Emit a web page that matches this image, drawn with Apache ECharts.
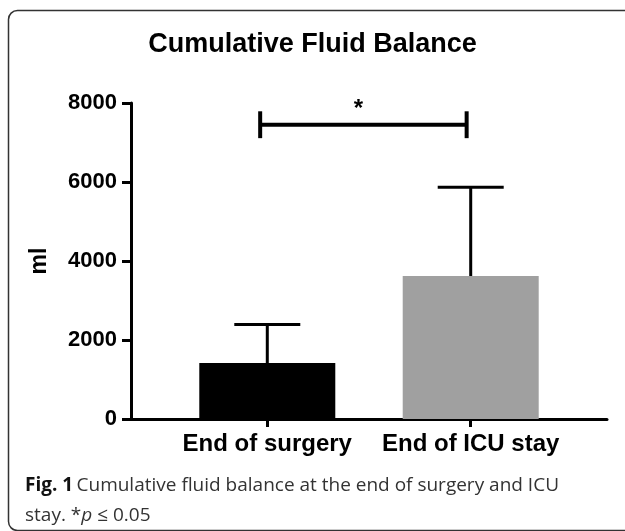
<!DOCTYPE html>
<html>
<head>
<meta charset="utf-8">
<script src="https://cdn.jsdelivr.net/npm/echarts@6/dist/echarts.min.js"></script>
<style>
html,body{margin:0;padding:0;background:#fff;}
#chart{width:625px;height:531px;}
</style>
</head>
<body>
<div id="chart"></div>
<script>
// ---- data ----
var categories = ['End of surgery', 'End of ICU stay'];
var means = [1415, 3620];
var sds = [975, 2250];
var barColors = ['#000000', '#a0a0a0'];
var yTicks = [0, 2000, 4000, 6000, 8000];
var sigFrom = -0.035, sigTo = 0.98, sigY = 7450, sigTick = 340, sigLabel = '*';

var chart = echarts.init(document.getElementById('chart'), null, {renderer: 'canvas'});

var barData = means.map(function (m, i) {
  return {value: [i, m], itemStyle: {color: barColors[i]}};
});
var errData = means.map(function (m, i) { return [i, m, m + sds[i]]; });

var boldFont = '"Liberation Sans", Arial, Helvetica, sans-serif';
var capFont = '"Open Sans", "Noto Sans", sans-serif';

var option = {
  animation: false,
  backgroundColor: '#fff',
  title: {
    text: 'Cumulative Fluid Balance',
    left: 'center',
    top: 26,
    textStyle: {fontFamily: boldFont, fontWeight: 'bold', fontSize: 27, color: '#000'}
  },
  grid: {left: 131, right: 18, top: 103, bottom: 112, containLabel: false},
  xAxis: {
    type: 'value',
    min: -0.67,
    max: 1.67,
    splitLine: {show: false},
    axisLine: {show: true, onZero: false, lineStyle: {color: '#000', width: 3}},
    axisTick: {show: true, length: 8, lineStyle: {color: '#000', width: 3}, customValues: [0, 1]},
    axisLabel: {
      customValues: [0, 1],
      margin: 13,
      fontFamily: boldFont, fontWeight: 'bold', fontSize: 24, color: '#000',
      formatter: function (v) { return categories[Math.round(v)] || ''; }
    }
  },
  yAxis: {
    type: 'value',
    min: 0, max: 8000, interval: 2000,
    name: 'ml',
    nameLocation: 'middle',
    nameRotate: 90,
    nameGap: 80,
    nameTextStyle: {fontFamily: boldFont, fontWeight: 'bold', fontSize: 23, color: '#000'},
    splitLine: {show: false},
    axisLine: {show: true, onZero: false, lineStyle: {color: '#000', width: 3}},
    axisTick: {show: true, length: 9, lineStyle: {color: '#000', width: 3}},
    axisLabel: {
      margin: 14,
      fontFamily: boldFont, fontWeight: 'bold', fontSize: 22, color: '#000',
      formatter: function (v) { return yTicks.indexOf(v) >= 0 ? String(v) : ''; }
    }
  },
  series: [
    {
      type: 'bar',
      data: barData,
      barWidth: 136,
      z: 2
    },
    {
      type: 'custom',
      z: 3,
      data: errData,
      renderItem: function (params, api) {
        var x = api.value(0);
        var lo = api.coord([x, api.value(1)]);
        var hi = api.coord([x, api.value(2)]);
        var half = 33;
        return {
          type: 'group',
          children: [
            {type: 'line', shape: {x1: lo[0], y1: lo[1], x2: hi[0], y2: hi[1]}, style: {stroke: '#000', lineWidth: 3}},
            {type: 'line', shape: {x1: hi[0] - half, y1: hi[1], x2: hi[0] + half, y2: hi[1]}, style: {stroke: '#000', lineWidth: 3}}
          ]
        };
      }
    },
    {
      type: 'custom',
      z: 4,
      data: [[sigFrom, sigTo, sigY]],
      renderItem: function (params, api) {
        var a = api.coord([api.value(0), api.value(2)]);
        var b = api.coord([api.value(1), api.value(2)]);
        var t1 = api.coord([api.value(0), api.value(2) + sigTick]);
        var t2 = api.coord([api.value(0), api.value(2) - sigTick]);
        var dy = Math.abs(t2[1] - t1[1]) / 2;
        return {
          type: 'group',
          children: [
            {type: 'line', shape: {x1: a[0], y1: a[1], x2: b[0], y2: b[1]}, style: {stroke: '#000', lineWidth: 4}},
            {type: 'line', shape: {x1: a[0], y1: a[1] - dy, x2: a[0], y2: a[1] + dy}, style: {stroke: '#000', lineWidth: 4}},
            {type: 'line', shape: {x1: b[0], y1: b[1] - dy, x2: b[0], y2: b[1] + dy}, style: {stroke: '#000', lineWidth: 4}},
            {type: 'text', x: (a[0] + b[0]) / 2 - 5, y: a[1] - 3,
              style: {text: sigLabel, fontFamily: boldFont, fontWeight: 'bold', fontSize: 24, fill: '#000',
                align: 'center', verticalAlign: 'bottom'}}
          ]
        };
      }
    }
  ],
  graphic: [
    {
      type: 'rect',
      shape: {x: 8.5, y: 10.5, width: 700, height: 520, r: 9},
      style: {fill: null, stroke: '#333', lineWidth: 1.5},
      silent: true
    },
    {
      type: 'text',
      left: 25,
      top: 471,
      style: {
        text: '{b|Fig. 1} {n|Cumulative fluid balance at the end of surgery and ICU}\n{n|stay. *}{i|p}{n| ≤ 0.05}',
        lineHeight: 30,
        rich: {
          b: {fontFamily: capFont, fontWeight: 'bold', fontSize: 19, fill: '#111', lineHeight: 30},
          n: {fontFamily: capFont, fontWeight: 'normal', fontSize: 19, fill: '#333', lineHeight: 30},
          i: {fontFamily: capFont, fontStyle: 'italic', fontSize: 19, fill: '#333', lineHeight: 30}
        }
      }
    }
  ]
};
chart.setOption(option);
</script>
</body>
</html>
